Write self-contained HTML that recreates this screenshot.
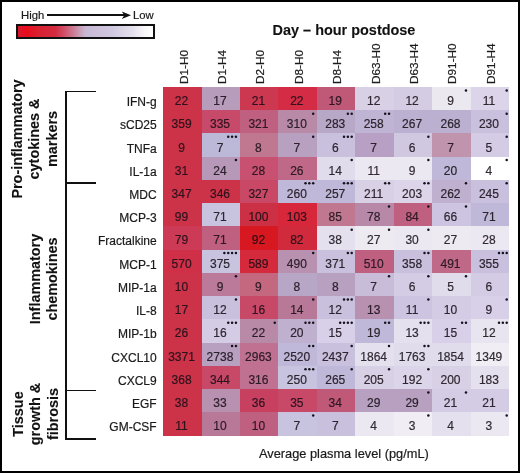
<!DOCTYPE html>
<html><head><meta charset="utf-8"><style>
html,body{margin:0;padding:0;background:#fff;}
body{width:520px;height:473px;position:relative;overflow:hidden;font-family:"Liberation Sans",sans-serif;color:#1a1a1a;-webkit-text-stroke:0.2px currentColor;}
.frame{position:absolute;left:0;top:0;width:520px;height:473px;box-sizing:border-box;border:2px solid #000;}
.a{position:absolute;white-space:nowrap;}
.c{position:absolute;font-size:12px;text-align:center;color:#1a1018;}
.d{position:absolute;width:2.5px;height:2.5px;border-radius:50%;background:#111;}
.rl{position:absolute;font-size:12px;text-align:right;width:100px;color:#1a1a1a;}
.ch{position:absolute;font-size:11.8px;transform-origin:0 0;transform:rotate(-90deg);white-space:nowrap;color:#1a1a1a;}
.gl{-webkit-text-stroke:0.1px currentColor;position:absolute;font-size:14.4px;font-weight:bold;transform-origin:0 0;transform:rotate(-90deg);white-space:nowrap;text-align:center;line-height:17.4px;color:#111;}
.ln{position:absolute;background:#111;}
</style></head><body><div id="w" style="position:absolute;left:0;top:0;width:520px;height:473px;filter:blur(0.35px);">

<div class="a" style="left:21px;top:8.8px;font-size:11.3px;line-height:13px;">High</div>
<div class="ln" style="left:46.9px;top:14.45px;width:78px;height:1.5px;"></div>
<svg class="a" style="left:118px;top:10px" width="14" height="10" viewBox="0 0 14 10"><path d="M3.8,1.5 L13,5.2 L3.8,8.9 L6.3,5.2 Z" fill="#111"/></svg>
<div class="a" style="left:133px;top:9.1px;font-size:11.3px;line-height:13px;">Low</div>
<div class="a" style="left:16.2px;top:24.2px;width:139.3px;height:14.6px;box-sizing:border-box;border:2px solid #111;background:linear-gradient(90deg,#d8182c 0%,#e80c1c 6.4%,#d82030 14.7%,#d42c40 27.7%,#d04860 32.9%,#cc7890 40.4%,#c8a0b8 46.1%,#c8b8d4 50%,#d0c8e0 69.9%,#e4e0ec 84.6%,#fafafc 94.9%,#ffffff 100%);"></div>
<div class="a" style="-webkit-text-stroke:0.1px currentColor;left:272.6px;top:22.1px;font-size:14.45px;font-weight:bold;line-height:17px;color:#111;">Day &ndash; hour postdose</div>
<div class="ch" style="left:177.51px;top:83.8px;line-height:13px;">D1-H0</div>
<div class="ch" style="left:215.93px;top:83.8px;line-height:13px;">D1-H4</div>
<div class="ch" style="left:254.36px;top:83.8px;line-height:13px;">D2-H0</div>
<div class="ch" style="left:292.78px;top:83.8px;line-height:13px;">D8-H0</div>
<div class="ch" style="left:331.20px;top:83.8px;line-height:13px;">D8-H4</div>
<div class="ch" style="left:369.62px;top:83.8px;line-height:13px;">D63-H0</div>
<div class="ch" style="left:408.04px;top:83.8px;line-height:13px;">D63-H4</div>
<div class="ch" style="left:446.47px;top:83.8px;line-height:13px;">D91-H0</div>
<div class="ch" style="left:484.89px;top:83.8px;line-height:13px;">D91-H4</div>
<div class="c" style="left:163.20px;top:87.00px;width:38.72px;height:23.53px;line-height:23.23px;background:#cc3248;color:#2e131c;"><span style="position:relative;top:3.1px;left:-1px">22</span></div>
<div class="c" style="left:201.62px;top:87.00px;width:38.72px;height:23.53px;line-height:23.23px;background:#b89cbc;color:#2b202c;"><span style="position:relative;top:3.1px;left:-1px">17</span></div>
<div class="c" style="left:240.04px;top:87.00px;width:38.72px;height:23.53px;line-height:23.23px;background:#cc3850;color:#2e131e;"><span style="position:relative;top:3.1px;left:-1px">21</span></div>
<div class="c" style="left:278.47px;top:87.00px;width:38.72px;height:23.53px;line-height:23.23px;background:#d42c44;color:#2f121c;"><span style="position:relative;top:3.1px;left:-1px">22</span></div>
<div class="c" style="left:316.89px;top:87.00px;width:38.72px;height:23.53px;line-height:23.23px;background:#c05878;color:#2c1823;"><span style="position:relative;top:3.1px;left:-1px">19</span></div>
<div class="c" style="left:355.31px;top:87.00px;width:38.72px;height:23.53px;line-height:23.23px;background:#d8d0e4;color:#2f2731;"><span style="position:relative;top:3.1px;left:-1px">12</span></div>
<div class="c" style="left:393.73px;top:87.00px;width:38.72px;height:23.53px;line-height:23.23px;background:#d4cce2;color:#2f2731;"><span style="position:relative;top:3.1px;left:-1px">12</span></div>
<div class="c" style="left:432.16px;top:87.00px;width:38.72px;height:23.53px;line-height:23.23px;background:#ece8f0;color:#322a32;"><span style="position:relative;top:3.1px;left:-1px">9</span></div>
<div class="c" style="left:470.58px;top:87.00px;width:38.72px;height:23.53px;line-height:23.23px;background:#dcd4e8;color:#302831;"><span style="position:relative;top:3.1px;left:-1px">11</span></div>
<div class="rl" style="left:56.7px;top:87.00px;line-height:23.23px;"><span style="position:relative;top:4.1px">IFN-g</span></div>
<div class="c" style="left:163.20px;top:110.23px;width:38.72px;height:23.53px;line-height:23.23px;background:#cc3248;color:#2e131c;"><span style="position:relative;top:3.1px;left:-1px">359</span></div>
<div class="c" style="left:201.62px;top:110.23px;width:38.72px;height:23.53px;line-height:23.23px;background:#c84a6a;color:#2d1621;"><span style="position:relative;top:3.1px;left:-1px">335</span></div>
<div class="c" style="left:240.04px;top:110.23px;width:38.72px;height:23.53px;line-height:23.23px;background:#c06080;color:#2c1924;"><span style="position:relative;top:3.1px;left:-1px">321</span></div>
<div class="c" style="left:278.47px;top:110.23px;width:38.72px;height:23.53px;line-height:23.23px;background:#b88aa8;color:#2b1e29;"><span style="position:relative;top:3.1px;left:-1px">310</span></div>
<div class="c" style="left:316.89px;top:110.23px;width:38.72px;height:23.53px;line-height:23.23px;background:#b8a8c8;color:#2b222d;"><span style="position:relative;top:3.1px;left:-1px">283</span></div>
<div class="c" style="left:355.31px;top:110.23px;width:38.72px;height:23.53px;line-height:23.23px;background:#c0b4d4;color:#2c242f;"><span style="position:relative;top:3.1px;left:-1px">258</span></div>
<div class="c" style="left:393.73px;top:110.23px;width:38.72px;height:23.53px;line-height:23.23px;background:#bcb0d0;color:#2c232e;"><span style="position:relative;top:3.1px;left:-1px">267</span></div>
<div class="c" style="left:432.16px;top:110.23px;width:38.72px;height:23.53px;line-height:23.23px;background:#bcb0d0;color:#2c232e;"><span style="position:relative;top:3.1px;left:-1px">268</span></div>
<div class="c" style="left:470.58px;top:110.23px;width:38.72px;height:23.53px;line-height:23.23px;background:#c8c0dc;color:#2d2530;"><span style="position:relative;top:3.1px;left:-1px">230</span></div>
<div class="rl" style="left:56.7px;top:110.23px;line-height:23.23px;"><span style="position:relative;top:4.1px">sCD25</span></div>
<div class="c" style="left:163.20px;top:133.46px;width:38.72px;height:23.53px;line-height:23.23px;background:#cc3248;color:#2e131c;"><span style="position:relative;top:3.1px;left:-1px">9</span></div>
<div class="c" style="left:201.62px;top:133.46px;width:38.72px;height:23.53px;line-height:23.23px;background:#bcb8d8;color:#2c242f;"><span style="position:relative;top:3.1px;left:-1px">7</span></div>
<div class="c" style="left:240.04px;top:133.46px;width:38.72px;height:23.53px;line-height:23.23px;background:#c07890;color:#2c1c26;"><span style="position:relative;top:3.1px;left:-1px">8</span></div>
<div class="c" style="left:278.47px;top:133.46px;width:38.72px;height:23.53px;line-height:23.23px;background:#b8a0c0;color:#2b212c;"><span style="position:relative;top:3.1px;left:-1px">7</span></div>
<div class="c" style="left:316.89px;top:133.46px;width:38.72px;height:23.53px;line-height:23.23px;background:#c8c0dc;color:#2d2530;"><span style="position:relative;top:3.1px;left:-1px">6</span></div>
<div class="c" style="left:355.31px;top:133.46px;width:38.72px;height:23.53px;line-height:23.23px;background:#b8a0c4;color:#2b212d;"><span style="position:relative;top:3.1px;left:-1px">7</span></div>
<div class="c" style="left:393.73px;top:133.46px;width:38.72px;height:23.53px;line-height:23.23px;background:#d0c8e0;color:#2e2630;"><span style="position:relative;top:3.1px;left:-1px">6</span></div>
<div class="c" style="left:432.16px;top:133.46px;width:38.72px;height:23.53px;line-height:23.23px;background:#c094ac;color:#2c1f2a;"><span style="position:relative;top:3.1px;left:-1px">7</span></div>
<div class="c" style="left:470.58px;top:133.46px;width:38.72px;height:23.53px;line-height:23.23px;background:#d4cce4;color:#2f2731;"><span style="position:relative;top:3.1px;left:-1px">5</span></div>
<div class="rl" style="left:56.7px;top:133.46px;line-height:23.23px;"><span style="position:relative;top:4.1px">TNFa</span></div>
<div class="c" style="left:163.20px;top:156.69px;width:38.72px;height:23.53px;line-height:23.23px;background:#cc3248;color:#2e131c;"><span style="position:relative;top:3.1px;left:-1px">31</span></div>
<div class="c" style="left:201.62px;top:156.69px;width:38.72px;height:23.53px;line-height:23.23px;background:#b898b8;color:#2b202b;"><span style="position:relative;top:3.1px;left:-1px">24</span></div>
<div class="c" style="left:240.04px;top:156.69px;width:38.72px;height:23.53px;line-height:23.23px;background:#c85070;color:#2d1722;"><span style="position:relative;top:3.1px;left:-1px">28</span></div>
<div class="c" style="left:278.47px;top:156.69px;width:38.72px;height:23.53px;line-height:23.23px;background:#c06888;color:#2c1a25;"><span style="position:relative;top:3.1px;left:-1px">26</span></div>
<div class="c" style="left:316.89px;top:156.69px;width:38.72px;height:23.53px;line-height:23.23px;background:#e0dcec;color:#302932;"><span style="position:relative;top:3.1px;left:-1px">14</span></div>
<div class="c" style="left:355.31px;top:156.69px;width:38.72px;height:23.53px;line-height:23.23px;background:#ece8f2;color:#322a33;"><span style="position:relative;top:3.1px;left:-1px">11</span></div>
<div class="c" style="left:393.73px;top:156.69px;width:38.72px;height:23.53px;line-height:23.23px;background:#ece8f2;color:#322a33;"><span style="position:relative;top:3.1px;left:-1px">9</span></div>
<div class="c" style="left:432.16px;top:156.69px;width:38.72px;height:23.53px;line-height:23.23px;background:#c0b8d8;color:#2c242f;"><span style="position:relative;top:3.1px;left:-1px">20</span></div>
<div class="c" style="left:470.58px;top:156.69px;width:38.72px;height:23.53px;line-height:23.23px;background:#ffffff;color:#342d34;"><span style="position:relative;top:3.1px;left:-1px">4</span></div>
<div class="rl" style="left:56.7px;top:156.69px;line-height:23.23px;"><span style="position:relative;top:4.1px">IL-1a</span></div>
<div class="c" style="left:163.20px;top:179.92px;width:38.72px;height:23.53px;line-height:23.23px;background:#cc3248;color:#2e131c;"><span style="position:relative;top:3.1px;left:-1px">347</span></div>
<div class="c" style="left:201.62px;top:179.92px;width:38.72px;height:23.53px;line-height:23.23px;background:#cc3248;color:#2e131c;"><span style="position:relative;top:3.1px;left:-1px">346</span></div>
<div class="c" style="left:240.04px;top:179.92px;width:38.72px;height:23.53px;line-height:23.23px;background:#c84866;color:#2d1620;"><span style="position:relative;top:3.1px;left:-1px">327</span></div>
<div class="c" style="left:278.47px;top:179.92px;width:38.72px;height:23.53px;line-height:23.23px;background:#c0b8d8;color:#2c242f;"><span style="position:relative;top:3.1px;left:-1px">260</span></div>
<div class="c" style="left:316.89px;top:179.92px;width:38.72px;height:23.53px;line-height:23.23px;background:#c0b8d8;color:#2c242f;"><span style="position:relative;top:3.1px;left:-1px">257</span></div>
<div class="c" style="left:355.31px;top:179.92px;width:38.72px;height:23.53px;line-height:23.23px;background:#d8d0e4;color:#2f2731;"><span style="position:relative;top:3.1px;left:-1px">211</span></div>
<div class="c" style="left:393.73px;top:179.92px;width:38.72px;height:23.53px;line-height:23.23px;background:#dcd4e8;color:#302831;"><span style="position:relative;top:3.1px;left:-1px">203</span></div>
<div class="c" style="left:432.16px;top:179.92px;width:38.72px;height:23.53px;line-height:23.23px;background:#c0b0d0;color:#2c232e;"><span style="position:relative;top:3.1px;left:-1px">262</span></div>
<div class="c" style="left:470.58px;top:179.92px;width:38.72px;height:23.53px;line-height:23.23px;background:#c8c0dc;color:#2d2530;"><span style="position:relative;top:3.1px;left:-1px">245</span></div>
<div class="rl" style="left:56.7px;top:179.92px;line-height:23.23px;"><span style="position:relative;top:4.1px">MDC</span></div>
<div class="c" style="left:163.20px;top:203.15px;width:38.72px;height:23.53px;line-height:23.23px;background:#cc3248;color:#2e131c;"><span style="position:relative;top:3.1px;left:-1px">99</span></div>
<div class="c" style="left:201.62px;top:203.15px;width:38.72px;height:23.53px;line-height:23.23px;background:#c8c4e0;color:#2d2630;"><span style="position:relative;top:3.1px;left:-1px">71</span></div>
<div class="c" style="left:240.04px;top:203.15px;width:38.72px;height:23.53px;line-height:23.23px;background:#cc3044;color:#2e121c;"><span style="position:relative;top:3.1px;left:-1px">100</span></div>
<div class="c" style="left:278.47px;top:203.15px;width:38.72px;height:23.53px;line-height:23.23px;background:#d6283a;color:#2f111b;"><span style="position:relative;top:3.1px;left:-1px">103</span></div>
<div class="c" style="left:316.89px;top:203.15px;width:38.72px;height:23.53px;line-height:23.23px;background:#c07890;color:#2c1c26;"><span style="position:relative;top:3.1px;left:-1px">85</span></div>
<div class="c" style="left:355.31px;top:203.15px;width:38.72px;height:23.53px;line-height:23.23px;background:#b888a8;color:#2b1e29;"><span style="position:relative;top:3.1px;left:-1px">78</span></div>
<div class="c" style="left:393.73px;top:203.15px;width:38.72px;height:23.53px;line-height:23.23px;background:#c06080;color:#2c1924;"><span style="position:relative;top:3.1px;left:-1px">84</span></div>
<div class="c" style="left:432.16px;top:203.15px;width:38.72px;height:23.53px;line-height:23.23px;background:#ccc4e0;color:#2e2630;"><span style="position:relative;top:3.1px;left:-1px">66</span></div>
<div class="c" style="left:470.58px;top:203.15px;width:38.72px;height:23.53px;line-height:23.23px;background:#c0b8d8;color:#2c242f;"><span style="position:relative;top:3.1px;left:-1px">71</span></div>
<div class="rl" style="left:56.7px;top:203.15px;line-height:23.23px;"><span style="position:relative;top:4.1px">MCP-3</span></div>
<div class="c" style="left:163.20px;top:226.38px;width:38.72px;height:23.53px;line-height:23.23px;background:#cc3a55;color:#2e141e;"><span style="position:relative;top:3.1px;left:-1px">79</span></div>
<div class="c" style="left:201.62px;top:226.38px;width:38.72px;height:23.53px;line-height:23.23px;background:#c06080;color:#2c1924;"><span style="position:relative;top:3.1px;left:-1px">71</span></div>
<div class="c" style="left:240.04px;top:226.38px;width:38.72px;height:23.53px;line-height:23.23px;background:#d81820;color:#2f0f17;"><span style="position:relative;top:3.1px;left:-1px">92</span></div>
<div class="c" style="left:278.47px;top:226.38px;width:38.72px;height:23.53px;line-height:23.23px;background:#d02a3c;color:#2e121b;"><span style="position:relative;top:3.1px;left:-1px">82</span></div>
<div class="c" style="left:316.89px;top:226.38px;width:38.72px;height:23.53px;line-height:23.23px;background:#e4e0ee;color:#312932;"><span style="position:relative;top:3.1px;left:-1px">38</span></div>
<div class="c" style="left:355.31px;top:226.38px;width:38.72px;height:23.53px;line-height:23.23px;background:#eeeaf2;color:#322b33;"><span style="position:relative;top:3.1px;left:-1px">27</span></div>
<div class="c" style="left:393.73px;top:226.38px;width:38.72px;height:23.53px;line-height:23.23px;background:#ece8f2;color:#322a33;"><span style="position:relative;top:3.1px;left:-1px">30</span></div>
<div class="c" style="left:432.16px;top:226.38px;width:38.72px;height:23.53px;line-height:23.23px;background:#eeeaf2;color:#322b33;"><span style="position:relative;top:3.1px;left:-1px">27</span></div>
<div class="c" style="left:470.58px;top:226.38px;width:38.72px;height:23.53px;line-height:23.23px;background:#ece8f2;color:#322a33;"><span style="position:relative;top:3.1px;left:-1px">28</span></div>
<div class="rl" style="left:56.7px;top:226.38px;line-height:23.23px;"><span style="position:relative;top:4.1px">Fractalkine</span></div>
<div class="c" style="left:163.20px;top:249.61px;width:38.72px;height:23.53px;line-height:23.23px;background:#cf3048;color:#2e121c;"><span style="position:relative;top:3.1px;left:-1px">570</span></div>
<div class="c" style="left:201.62px;top:249.61px;width:38.72px;height:23.53px;line-height:23.23px;background:#c8c4e0;color:#2d2630;"><span style="position:relative;top:3.1px;left:-1px">375</span></div>
<div class="c" style="left:240.04px;top:249.61px;width:38.72px;height:23.53px;line-height:23.23px;background:#d42a3c;color:#2f121b;"><span style="position:relative;top:3.1px;left:-1px">589</span></div>
<div class="c" style="left:278.47px;top:249.61px;width:38.72px;height:23.53px;line-height:23.23px;background:#b890b0;color:#2b1f2a;"><span style="position:relative;top:3.1px;left:-1px">490</span></div>
<div class="c" style="left:316.89px;top:249.61px;width:38.72px;height:23.53px;line-height:23.23px;background:#c8c0dc;color:#2d2530;"><span style="position:relative;top:3.1px;left:-1px">371</span></div>
<div class="c" style="left:355.31px;top:249.61px;width:38.72px;height:23.53px;line-height:23.23px;background:#c06080;color:#2c1924;"><span style="position:relative;top:3.1px;left:-1px">510</span></div>
<div class="c" style="left:393.73px;top:249.61px;width:38.72px;height:23.53px;line-height:23.23px;background:#c8c0dc;color:#2d2530;"><span style="position:relative;top:3.1px;left:-1px">358</span></div>
<div class="c" style="left:432.16px;top:249.61px;width:38.72px;height:23.53px;line-height:23.23px;background:#c06888;color:#2c1a25;"><span style="position:relative;top:3.1px;left:-1px">491</span></div>
<div class="c" style="left:470.58px;top:249.61px;width:38.72px;height:23.53px;line-height:23.23px;background:#c8c0dc;color:#2d2530;"><span style="position:relative;top:3.1px;left:-1px">355</span></div>
<div class="rl" style="left:56.7px;top:249.61px;line-height:23.23px;"><span style="position:relative;top:4.1px">MCP-1</span></div>
<div class="c" style="left:163.20px;top:272.84px;width:38.72px;height:23.53px;line-height:23.23px;background:#cc3248;color:#2e131c;"><span style="position:relative;top:3.1px;left:-1px">10</span></div>
<div class="c" style="left:201.62px;top:272.84px;width:38.72px;height:23.53px;line-height:23.23px;background:#bc7a9a;color:#2c1c27;"><span style="position:relative;top:3.1px;left:-1px">9</span></div>
<div class="c" style="left:240.04px;top:272.84px;width:38.72px;height:23.53px;line-height:23.23px;background:#c4687f;color:#2d1a24;"><span style="position:relative;top:3.1px;left:-1px">9</span></div>
<div class="c" style="left:278.47px;top:272.84px;width:38.72px;height:23.53px;line-height:23.23px;background:#b8a6c6;color:#2b222d;"><span style="position:relative;top:3.1px;left:-1px">8</span></div>
<div class="c" style="left:316.89px;top:272.84px;width:38.72px;height:23.53px;line-height:23.23px;background:#b8a0c0;color:#2b212c;"><span style="position:relative;top:3.1px;left:-1px">8</span></div>
<div class="c" style="left:355.31px;top:272.84px;width:38.72px;height:23.53px;line-height:23.23px;background:#c8bcd8;color:#2d252f;"><span style="position:relative;top:3.1px;left:-1px">7</span></div>
<div class="c" style="left:393.73px;top:272.84px;width:38.72px;height:23.53px;line-height:23.23px;background:#d4cce4;color:#2f2731;"><span style="position:relative;top:3.1px;left:-1px">6</span></div>
<div class="c" style="left:432.16px;top:272.84px;width:38.72px;height:23.53px;line-height:23.23px;background:#e0dcec;color:#302932;"><span style="position:relative;top:3.1px;left:-1px">5</span></div>
<div class="c" style="left:470.58px;top:272.84px;width:38.72px;height:23.53px;line-height:23.23px;background:#d4cce4;color:#2f2731;"><span style="position:relative;top:3.1px;left:-1px">6</span></div>
<div class="rl" style="left:56.7px;top:272.84px;line-height:23.23px;"><span style="position:relative;top:4.1px">MIP-1a</span></div>
<div class="c" style="left:163.20px;top:296.07px;width:38.72px;height:23.53px;line-height:23.23px;background:#cc3248;color:#2e131c;"><span style="position:relative;top:3.1px;left:-1px">17</span></div>
<div class="c" style="left:201.62px;top:296.07px;width:38.72px;height:23.53px;line-height:23.23px;background:#c8c0dc;color:#2d2530;"><span style="position:relative;top:3.1px;left:-1px">12</span></div>
<div class="c" style="left:240.04px;top:296.07px;width:38.72px;height:23.53px;line-height:23.23px;background:#c84868;color:#2d1621;"><span style="position:relative;top:3.1px;left:-1px">16</span></div>
<div class="c" style="left:278.47px;top:296.07px;width:38.72px;height:23.53px;line-height:23.23px;background:#b87898;color:#2b1c27;"><span style="position:relative;top:3.1px;left:-1px">14</span></div>
<div class="c" style="left:316.89px;top:296.07px;width:38.72px;height:23.53px;line-height:23.23px;background:#c8c0dc;color:#2d2530;"><span style="position:relative;top:3.1px;left:-1px">12</span></div>
<div class="c" style="left:355.31px;top:296.07px;width:38.72px;height:23.53px;line-height:23.23px;background:#b890b0;color:#2b1f2a;"><span style="position:relative;top:3.1px;left:-1px">13</span></div>
<div class="c" style="left:393.73px;top:296.07px;width:38.72px;height:23.53px;line-height:23.23px;background:#ccc4e0;color:#2e2630;"><span style="position:relative;top:3.1px;left:-1px">11</span></div>
<div class="c" style="left:432.16px;top:296.07px;width:38.72px;height:23.53px;line-height:23.23px;background:#d4cce4;color:#2f2731;"><span style="position:relative;top:3.1px;left:-1px">10</span></div>
<div class="c" style="left:470.58px;top:296.07px;width:38.72px;height:23.53px;line-height:23.23px;background:#d8d0e8;color:#2f2731;"><span style="position:relative;top:3.1px;left:-1px">9</span></div>
<div class="rl" style="left:56.7px;top:296.07px;line-height:23.23px;"><span style="position:relative;top:4.1px">IL-8</span></div>
<div class="c" style="left:163.20px;top:319.30px;width:38.72px;height:23.53px;line-height:23.23px;background:#cc3248;color:#2e131c;"><span style="position:relative;top:3.1px;left:-1px">26</span></div>
<div class="c" style="left:201.62px;top:319.30px;width:38.72px;height:23.53px;line-height:23.23px;background:#d4cce4;color:#2f2731;"><span style="position:relative;top:3.1px;left:-1px">16</span></div>
<div class="c" style="left:240.04px;top:319.30px;width:38.72px;height:23.53px;line-height:23.23px;background:#b88aa8;color:#2b1e29;"><span style="position:relative;top:3.1px;left:-1px">22</span></div>
<div class="c" style="left:278.47px;top:319.30px;width:38.72px;height:23.53px;line-height:23.23px;background:#c0b0d0;color:#2c232e;"><span style="position:relative;top:3.1px;left:-1px">20</span></div>
<div class="c" style="left:316.89px;top:319.30px;width:38.72px;height:23.53px;line-height:23.23px;background:#d8d0e8;color:#2f2731;"><span style="position:relative;top:3.1px;left:-1px">15</span></div>
<div class="c" style="left:355.31px;top:319.30px;width:38.72px;height:23.53px;line-height:23.23px;background:#c0b8d8;color:#2c242f;"><span style="position:relative;top:3.1px;left:-1px">19</span></div>
<div class="c" style="left:393.73px;top:319.30px;width:38.72px;height:23.53px;line-height:23.23px;background:#e4e0ee;color:#312932;"><span style="position:relative;top:3.1px;left:-1px">13</span></div>
<div class="c" style="left:432.16px;top:319.30px;width:38.72px;height:23.53px;line-height:23.23px;background:#d8d0e8;color:#2f2731;"><span style="position:relative;top:3.1px;left:-1px">15</span></div>
<div class="c" style="left:470.58px;top:319.30px;width:38.72px;height:23.53px;line-height:23.23px;background:#e8e4f0;color:#312a32;"><span style="position:relative;top:3.1px;left:-1px">12</span></div>
<div class="rl" style="left:56.7px;top:319.30px;line-height:23.23px;"><span style="position:relative;top:4.1px">MIP-1b</span></div>
<div class="c" style="left:163.20px;top:342.53px;width:38.72px;height:23.53px;line-height:23.23px;background:#cc3248;color:#2e131c;"><span style="position:relative;top:3.1px;left:-1px">3371</span></div>
<div class="c" style="left:201.62px;top:342.53px;width:38.72px;height:23.53px;line-height:23.23px;background:#b8a0c0;color:#2b212c;"><span style="position:relative;top:3.1px;left:-1px">2738</span></div>
<div class="c" style="left:240.04px;top:342.53px;width:38.72px;height:23.53px;line-height:23.23px;background:#c07090;color:#2c1b26;"><span style="position:relative;top:3.1px;left:-1px">2963</span></div>
<div class="c" style="left:278.47px;top:342.53px;width:38.72px;height:23.53px;line-height:23.23px;background:#c0b8d8;color:#2c242f;"><span style="position:relative;top:3.1px;left:-1px">2520</span></div>
<div class="c" style="left:316.89px;top:342.53px;width:38.72px;height:23.53px;line-height:23.23px;background:#c8c0dc;color:#2d2530;"><span style="position:relative;top:3.1px;left:-1px">2437</span></div>
<div class="c" style="left:355.31px;top:342.53px;width:38.72px;height:23.53px;line-height:23.23px;background:#e4e0ee;color:#312932;"><span style="position:relative;top:3.1px;left:-1px">1864</span></div>
<div class="c" style="left:393.73px;top:342.53px;width:38.72px;height:23.53px;line-height:23.23px;background:#e0dcec;color:#302932;"><span style="position:relative;top:3.1px;left:-1px">1763</span></div>
<div class="c" style="left:432.16px;top:342.53px;width:38.72px;height:23.53px;line-height:23.23px;background:#e0dcec;color:#302932;"><span style="position:relative;top:3.1px;left:-1px">1854</span></div>
<div class="c" style="left:470.58px;top:342.53px;width:38.72px;height:23.53px;line-height:23.23px;background:#f0eef4;color:#322b33;"><span style="position:relative;top:3.1px;left:-1px">1349</span></div>
<div class="rl" style="left:56.7px;top:342.53px;line-height:23.23px;"><span style="position:relative;top:4.1px">CXCL10</span></div>
<div class="c" style="left:163.20px;top:365.76px;width:38.72px;height:23.53px;line-height:23.23px;background:#cc3248;color:#2e131c;"><span style="position:relative;top:3.1px;left:-1px">368</span></div>
<div class="c" style="left:201.62px;top:365.76px;width:38.72px;height:23.53px;line-height:23.23px;background:#c84868;color:#2d1621;"><span style="position:relative;top:3.1px;left:-1px">344</span></div>
<div class="c" style="left:240.04px;top:365.76px;width:38.72px;height:23.53px;line-height:23.23px;background:#c07090;color:#2c1b26;"><span style="position:relative;top:3.1px;left:-1px">316</span></div>
<div class="c" style="left:278.47px;top:365.76px;width:38.72px;height:23.53px;line-height:23.23px;background:#c8c4e0;color:#2d2630;"><span style="position:relative;top:3.1px;left:-1px">250</span></div>
<div class="c" style="left:316.89px;top:365.76px;width:38.72px;height:23.53px;line-height:23.23px;background:#c0b8d8;color:#2c242f;"><span style="position:relative;top:3.1px;left:-1px">265</span></div>
<div class="c" style="left:355.31px;top:365.76px;width:38.72px;height:23.53px;line-height:23.23px;background:#d8d0e4;color:#2f2731;"><span style="position:relative;top:3.1px;left:-1px">205</span></div>
<div class="c" style="left:393.73px;top:365.76px;width:38.72px;height:23.53px;line-height:23.23px;background:#dcd4e8;color:#302831;"><span style="position:relative;top:3.1px;left:-1px">192</span></div>
<div class="c" style="left:432.16px;top:365.76px;width:38.72px;height:23.53px;line-height:23.23px;background:#d8d0e4;color:#2f2731;"><span style="position:relative;top:3.1px;left:-1px">200</span></div>
<div class="c" style="left:470.58px;top:365.76px;width:38.72px;height:23.53px;line-height:23.23px;background:#e4e0ee;color:#312932;"><span style="position:relative;top:3.1px;left:-1px">183</span></div>
<div class="rl" style="left:56.7px;top:365.76px;line-height:23.23px;"><span style="position:relative;top:4.1px">CXCL9</span></div>
<div class="c" style="left:163.20px;top:388.99px;width:38.72px;height:23.53px;line-height:23.23px;background:#cc3248;color:#2e131c;"><span style="position:relative;top:3.1px;left:-1px">38</span></div>
<div class="c" style="left:201.62px;top:388.99px;width:38.72px;height:23.53px;line-height:23.23px;background:#b890b0;color:#2b1f2a;"><span style="position:relative;top:3.1px;left:-1px">33</span></div>
<div class="c" style="left:240.04px;top:388.99px;width:38.72px;height:23.53px;line-height:23.23px;background:#c84060;color:#2d1420;"><span style="position:relative;top:3.1px;left:-1px">36</span></div>
<div class="c" style="left:278.47px;top:388.99px;width:38.72px;height:23.53px;line-height:23.23px;background:#c84868;color:#2d1621;"><span style="position:relative;top:3.1px;left:-1px">35</span></div>
<div class="c" style="left:316.89px;top:388.99px;width:38.72px;height:23.53px;line-height:23.23px;background:#c05878;color:#2c1823;"><span style="position:relative;top:3.1px;left:-1px">34</span></div>
<div class="c" style="left:355.31px;top:388.99px;width:38.72px;height:23.53px;line-height:23.23px;background:#b8a0c0;color:#2b212c;"><span style="position:relative;top:3.1px;left:-1px">29</span></div>
<div class="c" style="left:393.73px;top:388.99px;width:38.72px;height:23.53px;line-height:23.23px;background:#b8a0c0;color:#2b212c;"><span style="position:relative;top:3.1px;left:-1px">29</span></div>
<div class="c" style="left:432.16px;top:388.99px;width:38.72px;height:23.53px;line-height:23.23px;background:#d4cce4;color:#2f2731;"><span style="position:relative;top:3.1px;left:-1px">21</span></div>
<div class="c" style="left:470.58px;top:388.99px;width:38.72px;height:23.53px;line-height:23.23px;background:#d4cce4;color:#2f2731;"><span style="position:relative;top:3.1px;left:-1px">21</span></div>
<div class="rl" style="left:56.7px;top:388.99px;line-height:23.23px;"><span style="position:relative;top:4.1px">EGF</span></div>
<div class="c" style="left:163.20px;top:412.22px;width:38.72px;height:23.53px;line-height:23.23px;background:#cc3248;color:#2e131c;"><span style="position:relative;top:3.1px;left:-1px">11</span></div>
<div class="c" style="left:201.62px;top:412.22px;width:38.72px;height:23.53px;line-height:23.23px;background:#b87898;color:#2b1c27;"><span style="position:relative;top:3.1px;left:-1px">10</span></div>
<div class="c" style="left:240.04px;top:412.22px;width:38.72px;height:23.53px;line-height:23.23px;background:#c06080;color:#2c1924;"><span style="position:relative;top:3.1px;left:-1px">10</span></div>
<div class="c" style="left:278.47px;top:412.22px;width:38.72px;height:23.53px;line-height:23.23px;background:#c8c4e0;color:#2d2630;"><span style="position:relative;top:3.1px;left:-1px">7</span></div>
<div class="c" style="left:316.89px;top:412.22px;width:38.72px;height:23.53px;line-height:23.23px;background:#c8c0dc;color:#2d2530;"><span style="position:relative;top:3.1px;left:-1px">7</span></div>
<div class="c" style="left:355.31px;top:412.22px;width:38.72px;height:23.53px;line-height:23.23px;background:#ece8f2;color:#322a33;"><span style="position:relative;top:3.1px;left:-1px">4</span></div>
<div class="c" style="left:393.73px;top:412.22px;width:38.72px;height:23.53px;line-height:23.23px;background:#f0eef4;color:#322b33;"><span style="position:relative;top:3.1px;left:-1px">3</span></div>
<div class="c" style="left:432.16px;top:412.22px;width:38.72px;height:23.53px;line-height:23.23px;background:#e4e0ee;color:#312932;"><span style="position:relative;top:3.1px;left:-1px">4</span></div>
<div class="c" style="left:470.58px;top:412.22px;width:38.72px;height:23.53px;line-height:23.23px;background:#ece8f2;color:#322a33;"><span style="position:relative;top:3.1px;left:-1px">3</span></div>
<div class="rl" style="left:56.7px;top:412.22px;line-height:23.23px;"><span style="position:relative;top:4.1px">GM-CSF</span></div>
<div class="ln" style="left:65.4px;top:90.65px;width:1.45px;height:349.1px;"></div>
<div class="ln" style="left:65.4px;top:90.63px;width:30.4px;height:1.45px;"></div>
<div class="ln" style="left:65.4px;top:182.48px;width:30.4px;height:1.45px;"></div>
<div class="ln" style="left:65.4px;top:389.88px;width:30.4px;height:1.45px;"></div>
<div class="ln" style="left:65.4px;top:438.28px;width:30.4px;height:1.45px;"></div>
<div class="gl" style="left:8.5px;top:208.9px;width:140px;">Pro-inflammatory<br>cytokines &amp;<br>markers</div>
<div class="gl" style="left:26.6px;top:348.6px;width:140px;">Inflammatory<br>chemokines</div>
<div class="gl" style="left:9.5px;top:484.2px;width:140px;">Tissue<br>growth &amp;<br>fibrosis</div>
<div class="a" style="left:259px;top:446px;font-size:12.8px;line-height:15px;">Average plasma level (pg/mL)</div>
<svg class="a" style="left:0;top:0" width="520" height="473"><circle cx="465.98" cy="90.40" r="1.25" fill="#15101c"/><circle cx="506.70" cy="90.40" r="1.25" fill="#15101c"/><circle cx="313.19" cy="113.63" r="1.25" fill="#15101c"/><circle cx="347.86" cy="113.63" r="1.25" fill="#15101c"/><circle cx="351.71" cy="113.63" r="1.25" fill="#15101c"/><circle cx="385.18" cy="113.63" r="1.25" fill="#15101c"/><circle cx="389.03" cy="113.63" r="1.25" fill="#15101c"/><circle cx="506.70" cy="113.63" r="1.25" fill="#15101c"/><circle cx="228.24" cy="136.86" r="1.25" fill="#15101c"/><circle cx="232.09" cy="136.86" r="1.25" fill="#15101c"/><circle cx="235.94" cy="136.86" r="1.25" fill="#15101c"/><circle cx="313.19" cy="136.86" r="1.25" fill="#15101c"/><circle cx="344.01" cy="136.86" r="1.25" fill="#15101c"/><circle cx="347.86" cy="136.86" r="1.25" fill="#15101c"/><circle cx="351.71" cy="136.86" r="1.25" fill="#15101c"/><circle cx="428.36" cy="136.86" r="1.25" fill="#15101c"/><circle cx="506.70" cy="136.86" r="1.25" fill="#15101c"/><circle cx="235.94" cy="160.09" r="1.25" fill="#15101c"/><circle cx="351.71" cy="160.09" r="1.25" fill="#15101c"/><circle cx="428.36" cy="160.09" r="1.25" fill="#15101c"/><circle cx="506.70" cy="160.09" r="1.25" fill="#15101c"/><circle cx="305.49" cy="183.32" r="1.25" fill="#15101c"/><circle cx="309.34" cy="183.32" r="1.25" fill="#15101c"/><circle cx="313.19" cy="183.32" r="1.25" fill="#15101c"/><circle cx="344.01" cy="183.32" r="1.25" fill="#15101c"/><circle cx="347.86" cy="183.32" r="1.25" fill="#15101c"/><circle cx="351.71" cy="183.32" r="1.25" fill="#15101c"/><circle cx="385.18" cy="183.32" r="1.25" fill="#15101c"/><circle cx="389.03" cy="183.32" r="1.25" fill="#15101c"/><circle cx="424.51" cy="183.32" r="1.25" fill="#15101c"/><circle cx="428.36" cy="183.32" r="1.25" fill="#15101c"/><circle cx="465.98" cy="183.32" r="1.25" fill="#15101c"/><circle cx="506.70" cy="183.32" r="1.25" fill="#15101c"/><circle cx="389.03" cy="206.55" r="1.25" fill="#15101c"/><circle cx="428.36" cy="206.55" r="1.25" fill="#15101c"/><circle cx="465.98" cy="206.55" r="1.25" fill="#15101c"/><circle cx="351.71" cy="229.78" r="1.25" fill="#15101c"/><circle cx="389.03" cy="229.78" r="1.25" fill="#15101c"/><circle cx="428.36" cy="229.78" r="1.25" fill="#15101c"/><circle cx="224.39" cy="253.01" r="1.25" fill="#15101c"/><circle cx="228.24" cy="253.01" r="1.25" fill="#15101c"/><circle cx="232.09" cy="253.01" r="1.25" fill="#15101c"/><circle cx="235.94" cy="253.01" r="1.25" fill="#15101c"/><circle cx="313.19" cy="253.01" r="1.25" fill="#15101c"/><circle cx="347.86" cy="253.01" r="1.25" fill="#15101c"/><circle cx="351.71" cy="253.01" r="1.25" fill="#15101c"/><circle cx="424.51" cy="253.01" r="1.25" fill="#15101c"/><circle cx="428.36" cy="253.01" r="1.25" fill="#15101c"/><circle cx="499.00" cy="253.01" r="1.25" fill="#15101c"/><circle cx="502.85" cy="253.01" r="1.25" fill="#15101c"/><circle cx="506.70" cy="253.01" r="1.25" fill="#15101c"/><circle cx="235.94" cy="276.24" r="1.25" fill="#15101c"/><circle cx="389.03" cy="276.24" r="1.25" fill="#15101c"/><circle cx="428.36" cy="276.24" r="1.25" fill="#15101c"/><circle cx="465.98" cy="276.24" r="1.25" fill="#15101c"/><circle cx="235.94" cy="299.47" r="1.25" fill="#15101c"/><circle cx="313.19" cy="299.47" r="1.25" fill="#15101c"/><circle cx="344.01" cy="299.47" r="1.25" fill="#15101c"/><circle cx="347.86" cy="299.47" r="1.25" fill="#15101c"/><circle cx="351.71" cy="299.47" r="1.25" fill="#15101c"/><circle cx="428.36" cy="299.47" r="1.25" fill="#15101c"/><circle cx="506.70" cy="299.47" r="1.25" fill="#15101c"/><circle cx="228.24" cy="322.70" r="1.25" fill="#15101c"/><circle cx="232.09" cy="322.70" r="1.25" fill="#15101c"/><circle cx="235.94" cy="322.70" r="1.25" fill="#15101c"/><circle cx="274.77" cy="322.70" r="1.25" fill="#15101c"/><circle cx="305.49" cy="322.70" r="1.25" fill="#15101c"/><circle cx="309.34" cy="322.70" r="1.25" fill="#15101c"/><circle cx="313.19" cy="322.70" r="1.25" fill="#15101c"/><circle cx="340.16" cy="322.70" r="1.25" fill="#15101c"/><circle cx="344.01" cy="322.70" r="1.25" fill="#15101c"/><circle cx="347.86" cy="322.70" r="1.25" fill="#15101c"/><circle cx="351.71" cy="322.70" r="1.25" fill="#15101c"/><circle cx="385.18" cy="322.70" r="1.25" fill="#15101c"/><circle cx="389.03" cy="322.70" r="1.25" fill="#15101c"/><circle cx="420.66" cy="322.70" r="1.25" fill="#15101c"/><circle cx="424.51" cy="322.70" r="1.25" fill="#15101c"/><circle cx="428.36" cy="322.70" r="1.25" fill="#15101c"/><circle cx="462.13" cy="322.70" r="1.25" fill="#15101c"/><circle cx="465.98" cy="322.70" r="1.25" fill="#15101c"/><circle cx="499.00" cy="322.70" r="1.25" fill="#15101c"/><circle cx="502.85" cy="322.70" r="1.25" fill="#15101c"/><circle cx="506.70" cy="322.70" r="1.25" fill="#15101c"/><circle cx="232.09" cy="345.93" r="1.25" fill="#15101c"/><circle cx="235.94" cy="345.93" r="1.25" fill="#15101c"/><circle cx="309.34" cy="345.93" r="1.25" fill="#15101c"/><circle cx="313.19" cy="345.93" r="1.25" fill="#15101c"/><circle cx="351.71" cy="345.93" r="1.25" fill="#15101c"/><circle cx="389.03" cy="345.93" r="1.25" fill="#15101c"/><circle cx="424.51" cy="345.93" r="1.25" fill="#15101c"/><circle cx="428.36" cy="345.93" r="1.25" fill="#15101c"/><circle cx="305.49" cy="369.16" r="1.25" fill="#15101c"/><circle cx="309.34" cy="369.16" r="1.25" fill="#15101c"/><circle cx="313.19" cy="369.16" r="1.25" fill="#15101c"/><circle cx="351.71" cy="369.16" r="1.25" fill="#15101c"/><circle cx="389.03" cy="369.16" r="1.25" fill="#15101c"/><circle cx="428.36" cy="369.16" r="1.25" fill="#15101c"/><circle cx="428.36" cy="392.39" r="1.25" fill="#15101c"/><circle cx="465.98" cy="392.39" r="1.25" fill="#15101c"/><circle cx="313.19" cy="415.62" r="1.25" fill="#15101c"/><circle cx="428.36" cy="415.62" r="1.25" fill="#15101c"/><circle cx="506.70" cy="415.62" r="1.25" fill="#15101c"/></svg>
</div><div class="frame"></div>
</body></html>
